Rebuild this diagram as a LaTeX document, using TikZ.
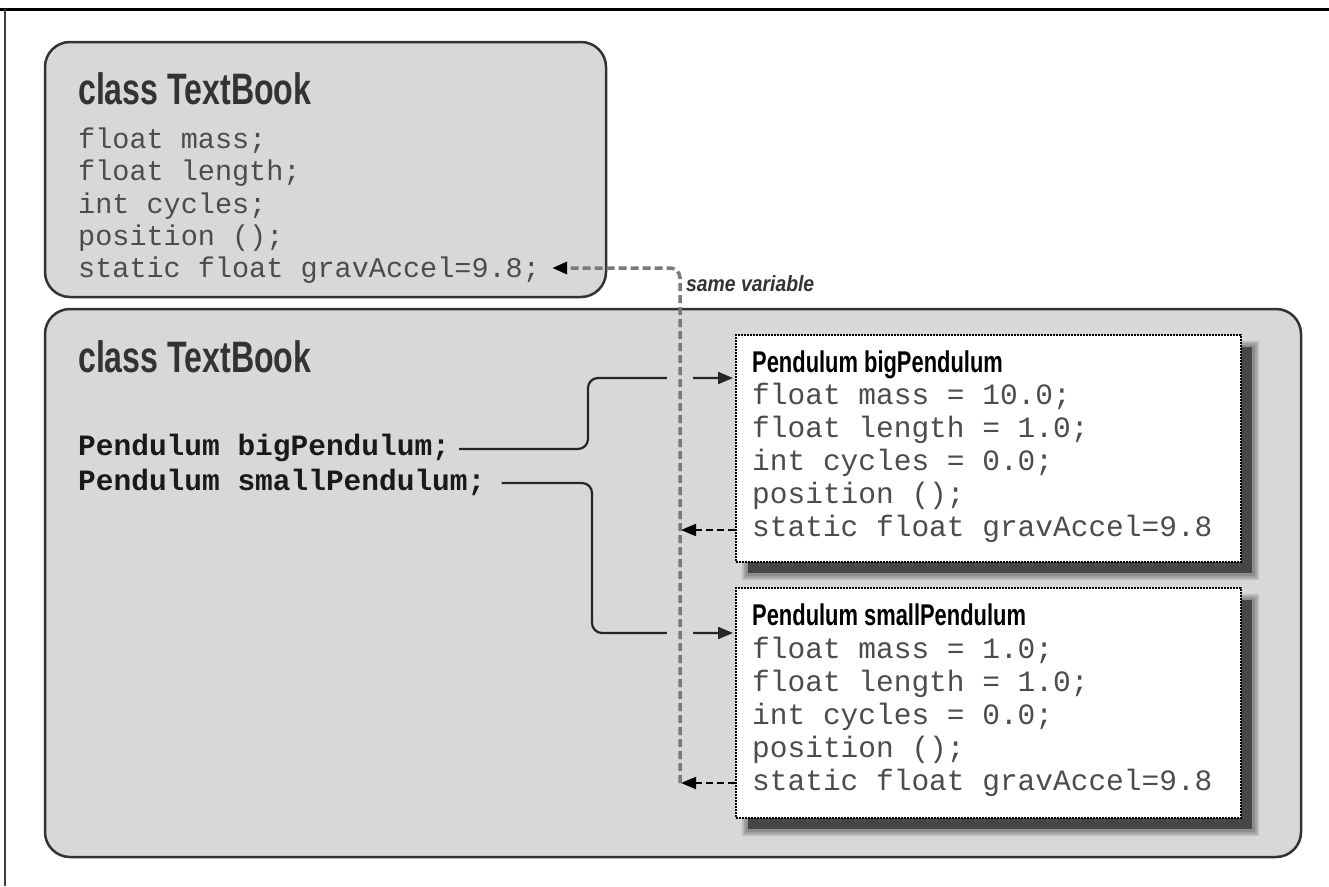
\documentclass[tikz,border=0pt]{standalone}
\usepackage{fontspec}
\usepackage{graphicx}
\setmainfont{Liberation Sans}
\newfontfamily\monofont{Liberation Mono}
\usetikzlibrary{arrows.meta}
\definecolor{boxgray}{HTML}{D8D8D8}
\definecolor{edgecol}{HTML}{333333}
\definecolor{codegray}{HTML}{4C4C4C}
\definecolor{dashgray}{HTML}{7A7A7A}
\newcommand{\condtxt}[2][0.75]{\scalebox{#1}[1]{#2}}
\begin{document}
\begin{tikzpicture}[x=1pt,y=-1pt,
  roundbox/.style={draw=edgecol, line width=2.5pt, fill=boxgray, rounded corners=25pt, inner sep=0pt},
  pendbox/.style={draw=black, line width=2pt, densely dotted, fill=white, inner sep=0pt, minimum width=505pt},
  titletext/.style={anchor=base west, inner sep=0pt, text=edgecol, font=\fontsize{44}{44}\selectfont\bfseries},
  pendtitle/.style={anchor=base west, inner sep=0pt, text=black, font=\fontsize{30}{30}\selectfont\bfseries},
  codetext/.style={anchor=base west, inner sep=0pt, text=codegray, font=\monofont\fontsize{28.5}{28.5}\selectfont},
  pcodetext/.style={anchor=base west, inner sep=0pt, text=codegray, font=\monofont\fontsize{29.5}{29.5}\selectfont},
  vartext/.style={anchor=base west, inner sep=0pt, text=black!90, font=\monofont\fontsize{29.5}{29.5}\selectfont\bfseries},
  notetext/.style={anchor=base west, inner sep=0pt, text=edgecol, font=\fontsize{22}{22}\selectfont\bfseries\itshape},
  conn/.style={draw=black!85, line width=2.2pt, rounded corners=10pt, -{Triangle[length=15pt,width=12pt]}},
  dasharrow/.style={draw=black, line width=2pt, dash pattern=on 7pt off 4pt, -{Triangle[length=15pt,width=12pt]}},
  graydash/.style={draw=dashgray, line width=3.5pt, dash pattern=on 8pt off 4pt, rounded corners=10pt, -{Triangle[length=15pt,width=12pt,color=black]}},
  shadowcore/.style={fill=black!72},
  shadowhalo/.style={fill=black, opacity=0.13}
]
\useasboundingbox (0,0) rectangle (1329,886);
% outer frame
\draw[black, line width=3pt] (0,9) -- (1329,9);
\draw[black!75, line width=2pt] (5,9) -- (5,886);

% class boxes
\node[roundbox, minimum width=561pt, minimum height=255pt] (topbox) at (325.5,169.5) {};
\node[roundbox, minimum width=1256pt, minimum height=548pt] (botbox) at (673,583) {};

% shadows of the pendulum boxes
\foreach \d in {6,4,2} {
  \fill[shadowhalo] (748-\d,347-\d) rectangle (1253+\d,574+\d);
  \fill[shadowhalo] (748-\d,600-\d) rectangle (1253+\d,830+\d);
}
\fill[shadowcore] (748,347) rectangle (1252,573);
\fill[shadowcore] (748,600) rectangle (1252,829);

% pendulum boxes
\node[pendbox, minimum height=227pt] (bigbox) at (988.5,448.5) {};
\node[pendbox, minimum height=230pt] (smallbox) at (988.5,703) {};

% top box text
\node[titletext] (toptitle) at (78,104) {\condtxt[0.73]{class TextBook}};
\node[codetext] (tmass) at (78,148) {float mass;};
\node[codetext] (tlength) at (78,180) {float length;};
\node[codetext] (tcycles) at (78,213) {int cycles;};
\node[codetext] (tpos) at (78,245) {position ();};
\node[codetext] (tstatic) at (78,277) {static float gravAccel=9.8;};

% bottom box text
\node[titletext] (bottitle) at (78,372) {\condtxt[0.73]{class TextBook}};
\node[vartext] (bigvar) at (78,455) {Pendulum bigPendulum;};
\node[vartext] (smallvar) at (78,490) {Pendulum smallPendulum;};

% big pendulum text
\node[pendtitle] (bigtitle) at (752,372) {\condtxt[0.73]{Pendulum bigPendulum}};
\node[pcodetext] (bmass) at (752,404) {float mass = 10.0;};
\node[pcodetext] (blength) at (752,437) {float length = 1.0;};
\node[pcodetext] (bcycles) at (752,470) {int cycles = 0.0;};
\node[pcodetext] (bpos) at (752,503) {position ();};
\node[pcodetext] (bstatic) at (752,536) {static float gravAccel=9.8};

% small pendulum text
\node[pendtitle] (smalltitle) at (752,625) {\condtxt[0.73]{Pendulum smallPendulum}};
\node[pcodetext] (smass) at (752,658) {float mass = 1.0;};
\node[pcodetext] (slength) at (752,691) {float length = 1.0;};
\node[pcodetext] (scycles) at (752,724) {int cycles = 0.0;};
\node[pcodetext] (spos) at (752,757) {position ();};
\node[pcodetext] (sstatic) at (752,790) {static float gravAccel=9.8};

% note
\node[notetext] (note) at (686,291) {\condtxt[0.88]{same variable}};

% helper coordinates
\coordinate (r1) at (0,378);
\coordinate (r2) at (0,633);
\coordinate (r3) at (0,530);
\coordinate (r4) at (0,783);
\coordinate (vtop) at (680,268);
\coordinate (vbot) at (680,783);
\coordinate (vmid) at (681,530);
\coordinate (vend) at (681,783);

% solid connectors
\draw[conn] ([xshift=9pt]bigvar.east |- r1) ++(0,71) -| (588,378) -- ([xshift=-2pt]bigbox.west |- r1);
\draw[conn] ([xshift=16pt]smallvar.east |- r2) ++(0,-150) -| (592,633) -- ([xshift=-2pt]smallbox.west |- r2);
% gaps where the dashed line crosses
\fill[boxgray] (667,369) rectangle (693,387);
\fill[boxgray] (667,624) rectangle (693,642);

% dashed connectors
\draw[dasharrow] (bigbox.west |- r3) -- (vmid);
\draw[dasharrow] (smallbox.west |- r4) -- (vend);
\draw[graydash] (vbot) -- (vtop) -- ([xshift=12pt]tstatic.east |- vtop);
\end{tikzpicture}
\end{document}
